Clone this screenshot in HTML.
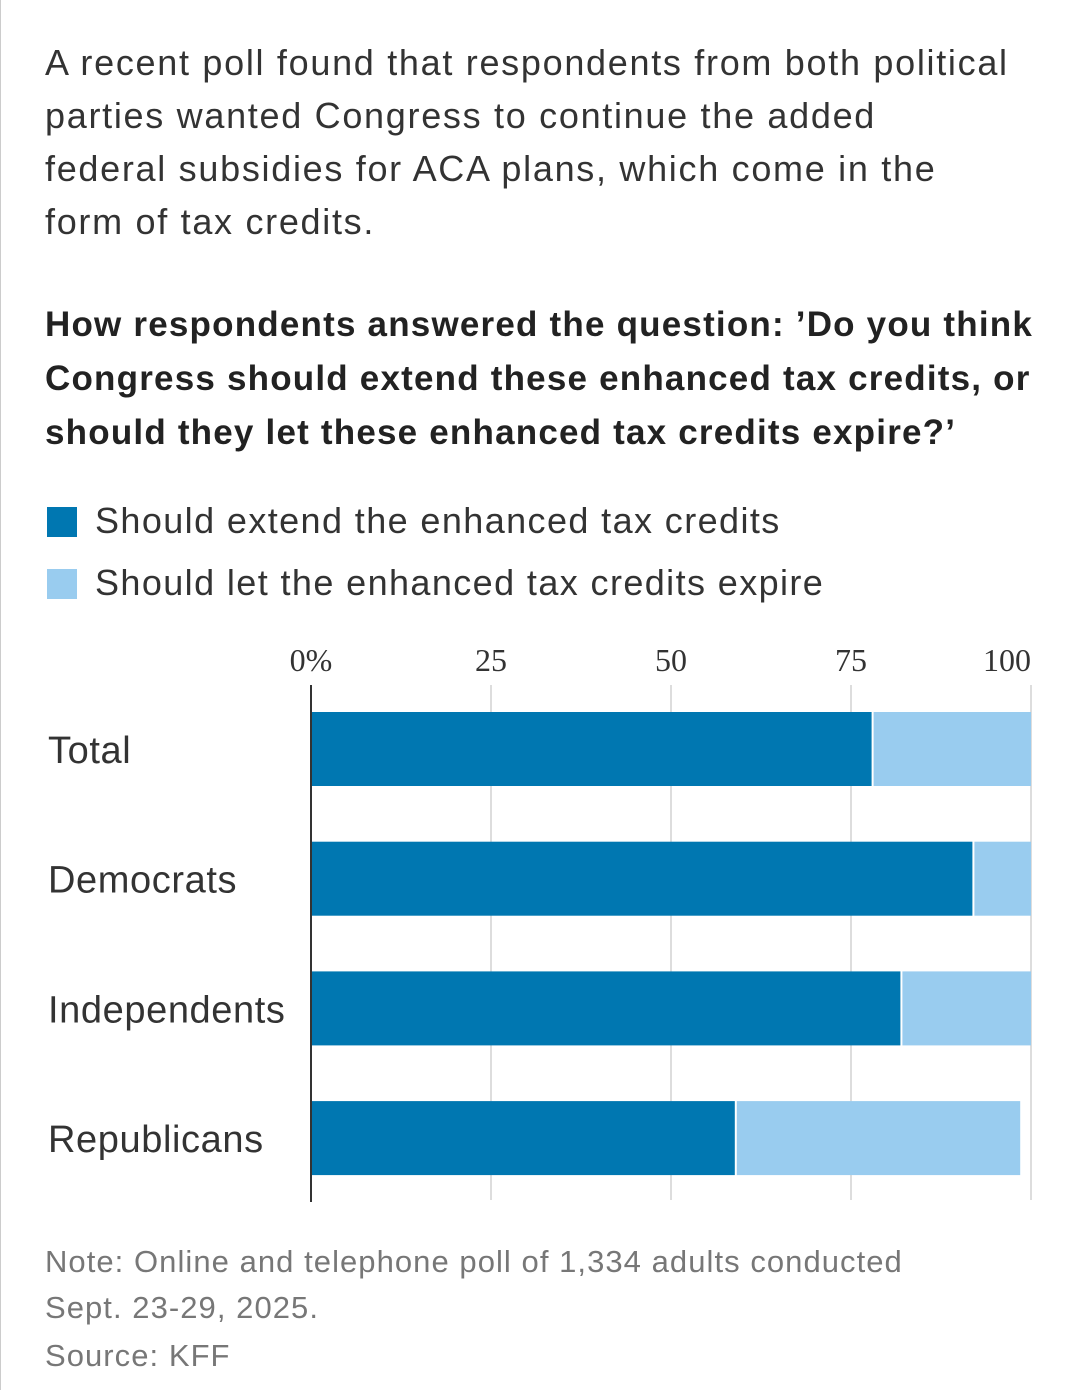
<!DOCTYPE html>
<html><head><meta charset="utf-8"><style>
body{margin:0;background:#fff;width:1080px;height:1390px;position:relative;overflow:hidden;font-family:"Liberation Sans",sans-serif;color:#333}
.t{position:absolute;left:45px;margin:0;white-space:nowrap}
#intro{top:36px;font-size:36px;line-height:53px;color:#333;letter-spacing:1.7px}
#q{top:298px;font-size:35px;line-height:54px;font-weight:bold;color:#222;letter-spacing:1.2px}
.leg{position:absolute;left:47px;font-size:36px;color:#333;height:40px;line-height:40px;letter-spacing:1.4px}
.leg span.sw{display:inline-block;width:30px;height:30px;vertical-align:-4px;margin-right:18px}
.note{position:absolute;left:45px;font-size:31px;color:#777;line-height:46px;letter-spacing:1.05px}
</style></head><body>
<div style="position:absolute;left:0;top:0;width:1px;height:1390px;background:#ccc"></div>
<p class="t" id="intro">A recent poll found that respondents from both political<br>parties wanted Congress to continue the added<br>federal subsidies for ACA plans, which come in the<br>form of tax credits.</p>
<p class="t" id="q">How respondents answered the question: ’Do you think<br>Congress should extend these enhanced tax credits, or<br>should they let these enhanced tax credits expire?’</p>
<div class="leg" style="top:501px"><span class="sw" style="background:#0077b1"></span>Should extend the enhanced tax credits</div>
<div class="leg" style="top:563px"><span class="sw" style="background:#99ccef"></span>Should let the enhanced tax credits expire</div>
<svg id="chart" width="1080" height="1240" style="position:absolute;left:0;top:0"></svg>
<div class="note" style="top:1239px">Note: Online and telephone poll of 1,334 adults conducted<br>Sept. 23-29, 2025.</div>
<div class="note" style="top:1333px">Source: KFF</div>
<script>
const categories=["Total","Democrats","Independents","Republicans"];
const extendVals=[78,92,82,59];
const expireVals=[22,8,18,39.5];
const ticks=[0,25,50,75,100];
const tickLabels=["0%","25","50","75","100"];
const svg=document.getElementById('chart');
const NS='http://www.w3.org/2000/svg';
const x=v=>311+v*7.2;
const y=i=>712+i*129.7;
function mk(t,a){const e=document.createElementNS(NS,t);for(const k in a)e.setAttribute(k,a[k]);svg.appendChild(e);return e;}
ticks.forEach((t,i)=>{
 if(i>0){const g=mk('line',{x1:x(t),x2:x(t),y1:685,y2:1200,stroke:'#ddd','stroke-width':2});
 
 }
 const last=i===ticks.length-1;
 const tx=mk('text',{x:x(t),y:671,'text-anchor':last?'end':'middle','font-size':32,'font-family':'Liberation Serif,serif',fill:'#333'});
 tx.textContent=tickLabels[i];
 
 
});
categories.forEach((c,i)=>{
 const b1=mk('rect',{x:x(0),y:y(i),width:x(extendVals[i])-x(0)-1,height:74,fill:'#0077b1'});
 
 
 const b2=mk('rect',{x:x(extendVals[i])+1,y:y(i),width:x(extendVals[i]+expireVals[i])-x(extendVals[i])-1,height:74,fill:'#99ccef'});
 
 
 const l=mk('text',{x:48,y:y(i)+51,'font-size':38,fill:'#333','font-family':'Liberation Sans,sans-serif','letter-spacing':0.6});
 l.textContent=c;
 
 
});
const ax=mk('line',{x1:311,x2:311,y1:685,y2:1202,stroke:'#333','stroke-width':2});


</script>
</body></html>
